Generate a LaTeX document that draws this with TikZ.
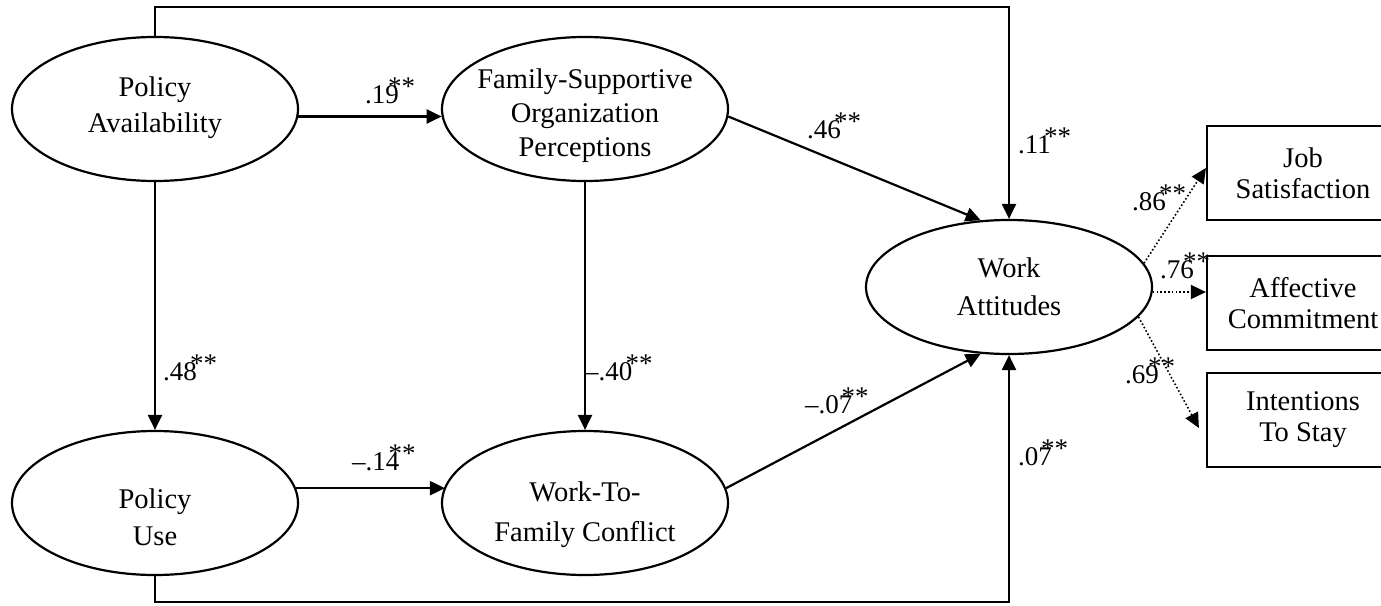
\documentclass[tikz,border=0pt]{standalone}
\usepackage{fontspec}
\setmainfont{Liberation Serif}
\usetikzlibrary{shapes.geometric,arrows.meta}
\newcommand\pcoef[2][-0.25em]{#2\kern#1\raisebox{0.27em}{**}}
\begin{document}
\begin{tikzpicture}[x=1pt,y=-1pt,
  ell/.style={draw, ellipse, line width=2.2pt, minimum width=286pt, minimum height=144pt, inner sep=0pt},
  lbl/.style={inner sep=0pt, align=center},
  boxnode/.style={draw, line width=2.2pt, minimum width=192pt, minimum height=94pt, inner sep=0pt, align=center, font=\fontsize{28.5}{31}\selectfont},
  arr/.style={line width=2.2pt, -{Triangle[length=15pt,width=14pt]}},
  darr/.style={line width=1.6pt, dash pattern=on 1.6pt off 2.2pt, -{Triangle[length=15pt,width=14pt]}},
  coef/.style={anchor=base west, inner sep=0pt, font=\fontsize{27}{30}\selectfont}]
\useasboundingbox (0,0) rectangle (1381,605);
\clip (0,0) rectangle (1381,605);

% ellipses
\node[ell] (pa) at (155,109) {};
\node[lbl, font=\fontsize{28.5}{36}\selectfont] (pat) at (155,108) {Policy\\Availability};
\node[ell] (fsop) at (585,109) {};
\node[lbl, font=\fontsize{28.5}{34}\selectfont] (fsopt) at (585,116) {Family-Supportive\\Organization\\Perceptions};
\node[ell] (pu) at (155,503) {};
\node[lbl, font=\fontsize{28.5}{37}\selectfont] (put) at (155,517) {Policy\\Use};
\node[ell] (wfc) at (585,503) {};
\node[lbl, font=\fontsize{28.5}{40}\selectfont] (wfct) at (585,515) {Work-To-\\Family Conflict};
\node[ell, minimum height=134pt] (wa) at (1009,287) {};
\node[lbl, font=\fontsize{28.5}{38}\selectfont] (wat) at (1009,287) {Work\\Attitudes};

% boxes
\node[boxnode] (js) at (1303,173) {Job\\Satisfaction};
\node[boxnode] (ac) at (1303,303) {Affective\\Commitment};
\node[boxnode] (is) at (1303,420) {Intentions\\To Stay};

% structural paths
\draw[arr] (pa.south) -- (pu.north);
\draw[arr] (pa.-3.2) -- (pa.-3.2 -| fsop.183.2);
\draw[arr] (pu.6.5) -- (pu.6.5 -| wfc.173.5);
\draw[arr] (fsop.south) -- (wfc.north);
\draw[arr] (fsop.-3.2) -- (wa.113);
\draw[arr] (wfc.6) -- (wa.-113);
\coordinate (tl) at (155,7);
\coordinate (tr) at (1009,7);
\draw[arr] (pa.north) -- (tl) -- (tr) -- (wa.north);
\coordinate (bl) at (155,602);
\coordinate (br) at (1009,602);
\draw[arr] (pu.south) -- (bl) -- (br) -- (wa.south);

% measurement paths
\draw[darr] (wa.10) -- ([yshift=5pt]js.west);
\draw[darr] (wa.-2) -- (wa.-2 -| ac.west);
\draw[darr] (wa.-13) -- ([xshift=-7pt,yshift=-8pt]is.west);

% coefficients
\node[coef] (c19) at (365,103) {\pcoef[-0.4em]{.19}};
\node[coef] (c46) at (807,138) {\pcoef{.46}};
\node[coef] (c11) at (1018,153) {\pcoef{.11}};
\node[coef] (c48) at (163,380) {\pcoef{.48}};
\node[coef] (c40) at (585,380) {\pcoef{–.40}};
\node[coef] (c14) at (352,470) {\pcoef[-0.4em]{–.14}};
\node[coef] (c07a) at (805,413) {\pcoef[-0.4em]{–.07}};
\node[coef] (c07b) at (1018,465) {\pcoef[-0.4em]{.07}};
\node[coef] (c86) at (1132,210) {\pcoef{.86}};
\node[coef] (c76) at (1160,278) {\pcoef[-0.4em]{.76}};
\node[coef] (c69) at (1125,383) {\pcoef[-0.4em]{.69}};
\end{tikzpicture}
\end{document}
